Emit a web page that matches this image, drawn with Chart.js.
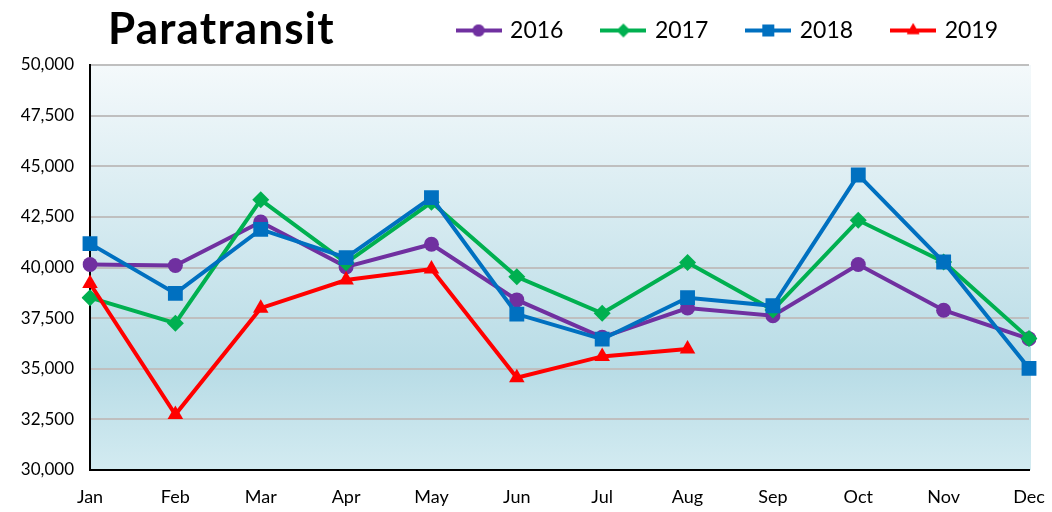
<!DOCTYPE html>
<html>
<head>
<meta charset="utf-8">
<script src="https://cdn.jsdelivr.net/npm/chart.js@4"></script>
<style>
  html, body { margin: 0; padding: 0; background: #fff; }
  #wrap { position: relative; width: 1052px; height: 512px; }
  #title {
    position: absolute; left: 108px; top: 1px; letter-spacing: 1.2px;
    font: bold 44px Lato, "DejaVu Sans", sans-serif; color: #000;
  }
</style>
</head>
<body>
<div id="wrap">
  <canvas id="chart" width="1052" height="512"></canvas>
  <div id="title">Paratransit</div>
</div>
<script>
// dati
const months = ['Jan','Feb','Mar','Apr','May','Jun','Jul','Aug','Sep','Oct','Nov','Dec']
const years  = ['2016','2017','2018','2019']
const s2016 = [40150, 40100, 42250, 40030, 41150, 38400, 36550, 38000, 37620, 40150, 37890, 36480]
const s2017 = [38510, 37250, 43340, 40230, 43220, 39540, 37740, 40250, 37900, 42330, 40270, 36500]
const s2018 = [41180, 38720, 41880, 40490, 43450, 37700, 36460, 38510, 38110, 44570, 40270, 35020]
const s2019 = [39210, 32740, 37990, 39380, 39920, 34560, 35610, 35970]
const yMin = 30000, yMax = 50000, yStep = 2500

const colors = ['#7030a0', '#00b050', '#0070c0', '#ff0000']
const markers = ['circle', 'rectRot', 'rect', 'triangle']
const sizes = [7.5, 8.5, 10.5, 9]
const series = [s2016, s2017, s2018, s2019]

// simbolo legenda: linea con marker al centro
function legendIcon(color, style, r) {
  const c = document.createElement('canvas')
  c.width = 46; c.height = 20
  const g = c.getContext('2d')
  g.strokeStyle = color; g.lineWidth = 4
  g.beginPath(); g.moveTo(0, 10); g.lineTo(46, 10); g.stroke()
  g.fillStyle = color
  Chart.helpers.drawPoint(g, { pointStyle: style, radius: r, rotation: 0, borderWidth: 0 }, 23, 10)
  g.fill()
  return c
}

const bgPlugin = {
  id: 'plotBg',
  beforeDraw(chart) {
    const { ctx, chartArea: a } = chart
    const gr = ctx.createLinearGradient(0, a.top, 0, a.bottom)
    gr.addColorStop(0, '#f4f9fb')
    gr.addColorStop(0.75, '#b8dce6')
    gr.addColorStop(1, '#d3ebf1')
    ctx.save()
    ctx.fillStyle = gr
    ctx.fillRect(a.left, a.top, a.right - a.left + 2, a.bottom - a.top)
    ctx.restore()
  }
}

// altezza fissa della legenda e piccolo spostamento a destra
const legendTweak = {
  id: 'legendTweak',
  beforeInit(chart) {
    const lg = chart.legend
    const fit = lg.fit
    lg.fit = function () { fit.bind(lg)(); this.height = 86 }
    const draw = lg.draw
    lg.draw = function () {
      this.ctx.save()
      this.ctx.translate(9, 0)
      draw.apply(lg, arguments)
      this.ctx.restore()
    }
  }
}

new Chart(document.getElementById('chart'), {
  type: 'line',
  data: {
    labels: months,
    datasets: series.map((d, i) => ({
      label: years[i],
      data: d,
      borderColor: colors[i],
      backgroundColor: colors[i],
      borderWidth: 4,
      pointStyle: markers[i],
      pointRadius: sizes[i],
      pointBorderWidth: 0,
      tension: 0,
      order: 4 - i
    }))
  },
  options: {
    responsive: false,
    animation: false,
    layout: { padding: { top: -21, right: 23, left: 0, bottom: 0 } },
    plugins: {
      tooltip: { enabled: false },
      legend: {
        position: 'top',
        align: 'end',
        labels: {
          usePointStyle: true,
          pointStyleWidth: 40,
          padding: 40,
          color: '#000',
          font: { family: 'Lato', size: 23 },
          generateLabels: () => years.map((y, i) => ({
            text: y,
            pointStyle: legendIcon(colors[i], markers[i], sizes[i] * 0.8),
            fillStyle: colors[i],
            strokeStyle: colors[i],
            lineWidth: 0,
            datasetIndex: i
          }))
        }
      }
    },
    scales: {
      x: {
        offset: false,
        grid: { display: false, drawTicks: false },
        border: { display: true, color: '#000', width: 2 },
        ticks: { color: '#000', font: { family: 'Lato', size: 18 }, padding: 16, maxRotation: 0 },
        afterFit(s) { s.height = 42; s.paddingRight = 0; s.paddingLeft = 0 }
      },
      y: {
        min: yMin, max: yMax,
        ticks: {
          stepSize: yStep,
          color: '#000',
          font: { family: 'Lato', size: 17 },
          padding: 16,
          callback: v => v.toLocaleString('en-US')
        },
        grid: { color: '#bfbfbf', lineWidth: 2, drawTicks: false },
        border: { display: true, color: '#000', width: 2 },
        afterFit(s) { s.width = 90 }
      }
    }
  },
  plugins: [bgPlugin, legendTweak]
})
</script>
</body>
</html>
